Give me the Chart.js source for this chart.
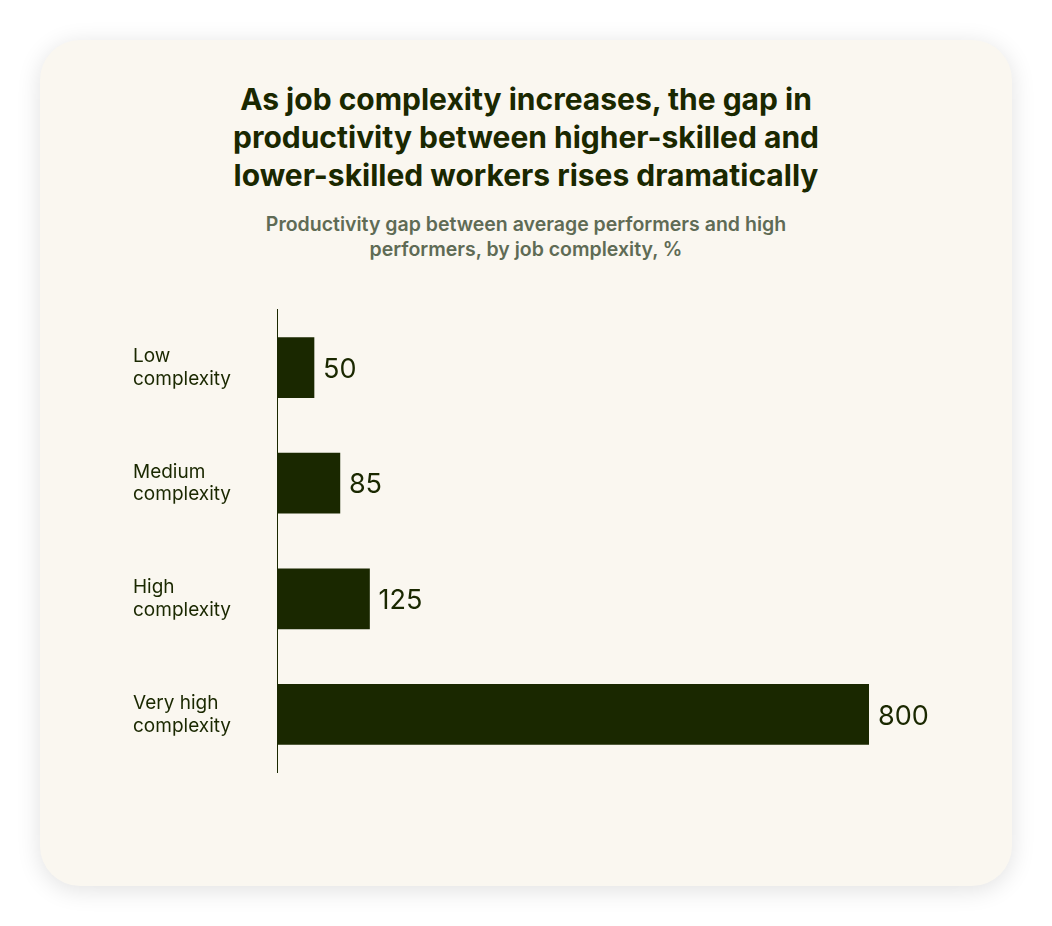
<!DOCTYPE html>
<html lang="en">
<head>
<meta charset="UTF-8">
<title>Productivity gap</title>
<script src="https://cdn.jsdelivr.net/npm/chart.js@4"></script>
<style>
  body { margin: 0; background: #fff; font-family: Inter, "Noto Sans", sans-serif; }
  .card {
    position: absolute; left: 40px; top: 40px; width: 972px; height: 846px;
    background: #faf7f0; border-radius: 40px;
    box-shadow: 0 4px 24px rgba(0,0,0,0.12);
  }
  h1 {
    position: absolute; left: 0; right: 0; top: 40px; margin: 0;
    text-align: center; font-size: 30px; line-height: 38px; font-weight: 700; color: #1a2800;
  }
  h2 {
    position: absolute; left: 0; right: 0; top: 172px; margin: 0;
    text-align: center; font-size: 19.5px; line-height: 25px; font-weight: 600; color: #5f6b55;
  }
  .chart { position: absolute; left: 93px; top: 244px; width: 887px; height: 514px; }
</style>
</head>
<body>
<div class="card">
  <h1>As job complexity increases, the gap in<br>productivity between higher-skilled and<br>lower-skilled workers rises dramatically</h1>
  <h2>Productivity gap between average performers and high<br>performers, by job complexity, %</h2>
  <div class="chart"><canvas id="barChart"></canvas></div>
</div>
<script>
  const categories = [['Low', 'complexity'], ['Medium', 'complexity'], ['High', 'complexity'], ['Very high', 'complexity']];
  const gapValues = [50, 85, 125, 800];

  const valueLabels = {
    id: 'valueLabels',
    afterDatasetsDraw(chart) {
      const ctx = chart.ctx;
      ctx.save();
      ctx.font = '27px Inter, "Noto Sans", sans-serif';
      ctx.fillStyle = '#1a2800';
      ctx.textBaseline = 'middle';
      chart.getDatasetMeta(0).data.forEach((bar, i) => {
        ctx.fillText(gapValues[i], bar.x + 9, bar.y + 2);
      });
      ctx.restore();
    }
  };

  new Chart(document.getElementById('barChart'), {
    type: 'bar',
    data: {
      labels: categories,
      datasets: [{ data: gapValues, backgroundColor: '#1a2800', barThickness: 60 }]
    },
    options: {
      indexAxis: 'y',
      responsive: true,
      maintainAspectRatio: false,
      animation: false,
      layout: { padding: { right: 151, top: 0, bottom: 0 } },
      plugins: { legend: { display: false }, tooltip: { enabled: false } },
      scales: {
        x: { min: 0, max: 800, display: false },
        y: {
          afterFit(scale) { scale.width = 144; },
          grid: { display: false, drawTicks: false },
          border: { color: '#1a2800', width: 1 },
          ticks: {
            crossAlign: 'far',
            color: '#1a2800',
            font: { size: 19, family: 'Inter, "Noto Sans", sans-serif' }
          }
        }
      }
    },
    plugins: [valueLabels]
  });
</script>
</body>
</html>
